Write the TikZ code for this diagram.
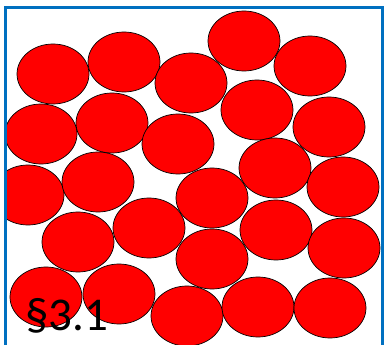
\documentclass[tikz,border=0pt]{standalone}
\usepackage{fontspec}
\setmainfont{Carlito}
\definecolor{frameblue}{RGB}{0,112,192}
\definecolor{ballred}{RGB}{255,0,0}
\begin{document}
\begin{tikzpicture}[x=1pt,y=-1pt,
  ball/.style={draw=black,fill=ballred,line width=0.7pt,x radius=36,y radius=30},
  frame/.style={draw=frameblue,line width=2.6pt},
  lab/.style={font=\fontsize{47}{47}\selectfont,anchor=base west,inner sep=0pt}]
\useasboundingbox (0,0) rectangle (384,345);
\begin{scope}
\clip (6,7) rectangle (383,350);
\foreach \x/\y in {
  53/74, 124/62, 191/83, 244/41, 310/66,
  41/134, 112/123, 178/144, 257/110, 329/127,
  28/195, 98/182, 212/198, 275/168, 343/187,
  78/242, 149/228, 212/259, 276/230, 344/248,
  46/297, 119/294, 187/316, 258/307, 330/308}
  \path[ball] (\x,\y) ellipse [];
\end{scope}
\draw[frame] (5.5,360) -- (5.5,7.3) -- (382.6,7.3) -- (382.6,360);
\node[lab] (t) at (25,331) {§3.1};
\end{tikzpicture}
\end{document}
